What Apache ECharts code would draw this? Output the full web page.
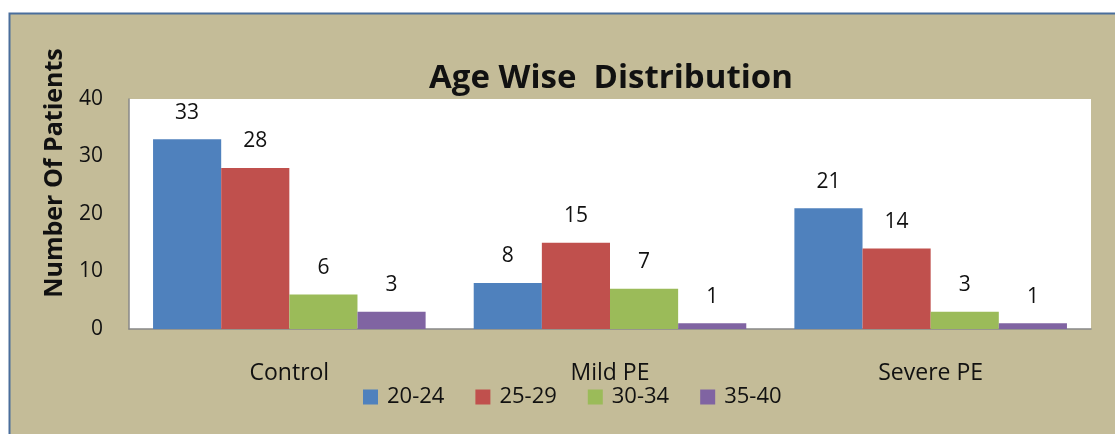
<!DOCTYPE html>
<html>
<head>
<meta charset="utf-8">
<script src="https://cdn.jsdelivr.net/npm/echarts@6/dist/echarts.min.js"></script>
<style>
  html, body { margin: 0; padding: 0; background: #ffffff; }
  #chart { width: 1115px; height: 434px; }
</style>
</head>
<body>
<div id="chart"></div>
<script>
// 类别与各年龄段数据
var groups = ['Control', 'Mild PE', 'Severe PE'];
var ageBands = ['20-24', '25-29', '30-34', '35-40'];
var age20to24 = [33, 8, 21];
var age25to29 = [28, 15, 14];
var age30to34 = [6, 7, 3];
var age35to40 = [3, 1, 1];
var yTicks = [0, 10, 20, 30, 40];

var bandColors = ['#4f81bd', '#c0504d', '#9bbb59', '#8064a2'];
var fontFamily = '"Open Sans", Lato, sans-serif';

var chart = echarts.init(document.getElementById('chart'));

function makeSeries(name, data, color) {
    return {
        name: name,
        type: 'bar',
        data: data,
        barGap: '0%',
        barCategoryGap: '15%',
        itemStyle: { color: color },
        label: {
            show: true,
            position: 'top',
            distance: 16,
            color: '#111',
            fontSize: 21,
            fontFamily: fontFamily
        }
    };
}

var option = {
    animation: false,
    backgroundColor: '#ffffff',
    graphic: [
        {
            type: 'rect',
            z: -10,
            shape: { x: 9.5, y: 13.5, width: 1120, height: 430 },
            style: { fill: '#c4bc98', stroke: '#4a6e9c', lineWidth: 2 }
        },
        {
            type: 'text',
            x: 55,
            y: 173,
            rotation: Math.PI / 2,
            style: {
                text: 'Number Of Patients',
                fill: '#111',
                font: 'bold 25px ' + fontFamily,
                textAlign: 'center',
                textVerticalAlign: 'middle'
            }
        }
    ],
    title: {
        text: 'Age Wise  Distribution',
        left: 606,
        textAlign: 'center',
        top: 57,
        textStyle: { fontSize: 33, fontWeight: 'bold', color: '#111', fontFamily: fontFamily }
    },
    legend: {
        data: ageBands,
        bottom: 21,
        left: 358,
        itemWidth: 15,
        itemHeight: 15,
        itemGap: 31,
        icon: 'rect',
        textStyle: { fontSize: 22, color: '#111', fontFamily: fontFamily, padding: [0, 0, 0, 4] }
    },
    grid: {
        left: 129,
        right: 24,
        top: 99,
        bottom: 105,
        show: true,
        backgroundColor: '#ffffff',
        borderWidth: 0
    },
    xAxis: {
        type: 'category',
        data: groups,
        axisLine: { lineStyle: { color: '#888', width: 1.5 } },
        axisTick: { show: false },
        axisLabel: { fontSize: 23, color: '#111', margin: 33, fontFamily: fontFamily }
    },
    yAxis: {
        type: 'value',
        min: yTicks[0],
        max: yTicks[yTicks.length - 1],
        interval: 10,
        axisLine: { show: true, lineStyle: { color: '#888', width: 1.5 } },
        axisTick: { show: false },
        splitLine: { show: false },
        axisLabel: { fontSize: 21, color: '#111', margin: 26, fontFamily: fontFamily }
    },
    series: [
        makeSeries(ageBands[0], age20to24, bandColors[0]),
        makeSeries(ageBands[1], age25to29, bandColors[1]),
        makeSeries(ageBands[2], age30to34, bandColors[2]),
        makeSeries(ageBands[3], age35to40, bandColors[3])
    ]
};

chart.setOption(option);
</script>
</body>
</html>
